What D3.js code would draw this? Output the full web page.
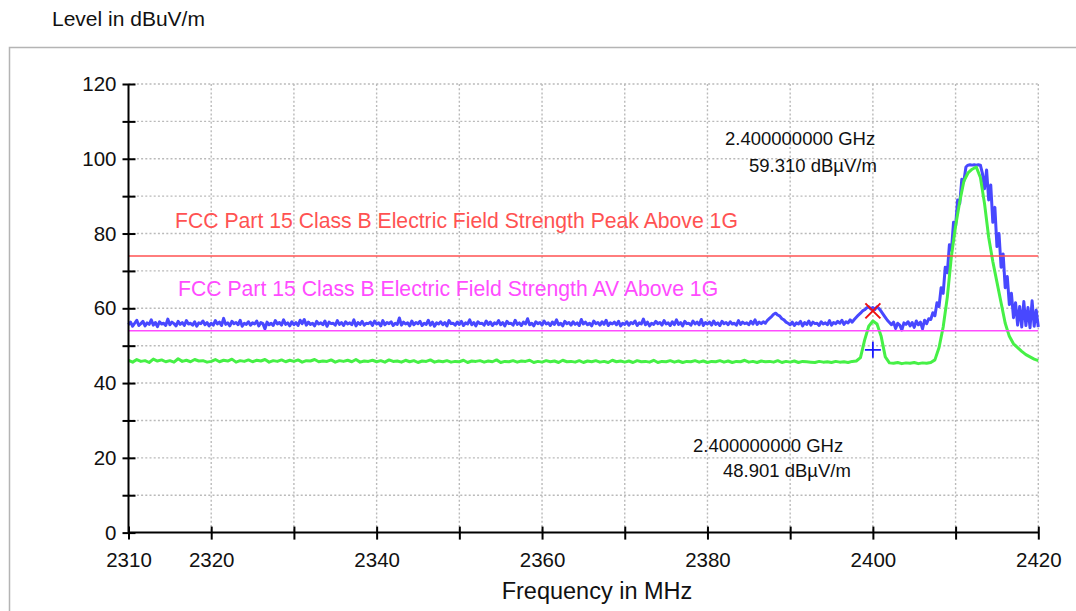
<!DOCTYPE html>
<html>
<head>
<meta charset="utf-8">
<script src="https://cdn.jsdelivr.net/npm/d3@7"></script>
<style>
  body { margin: 0; background: #fff; }
  svg { display: block; font-family: "Liberation Sans", Arial, Helvetica, sans-serif; }
</style>
</head>
<body>
<div id="chart"></div>
<script>
// sweep starts at 2310 MHz; peak trace read every 0.25 MHz, average every 0.5 MHz
const freqStart = 2310;
const peakStep = 0.25;
const avgStep = 0.5;

// blue trace (peak detector), dBuV/m -- one row per 10 MHz
const peakLevels = [
  55.6, 56.3, 55.2, 56.0, 56.8, 55.4, 55.9, 56.5, 55.3, 56.1, 55.7, 56.9, 55.5, 56.2, 55.1, 56.4, 55.8, 56.0, 55.4, 57.1, 55.6, 56.3, 55.9, 55.3, 56.5, 55.7, 56.2, 55.4, 56.7, 55.8, 56.0, 55.5, 56.4, 55.2, 56.1, 55.9, 56.6, 55.6, 56.2, 55.3,
  56.0, 55.5, 56.7, 55.8, 56.3, 55.4, 57.3, 55.7, 56.1, 55.3, 56.5, 55.9, 56.2, 55.6, 56.8, 55.2, 56.0, 55.7, 56.4, 55.5, 56.1, 55.8, 56.6, 55.3, 56.2, 55.9, 54.5, 56.3, 55.6, 56.0, 55.4, 56.7, 55.8, 56.2, 55.5, 56.9, 55.7, 56.1, 55.3, 56.4,
  55.6, 56.2, 55.4, 56.8, 55.9, 57.0, 55.5, 56.3, 55.7, 56.0, 55.3, 56.5, 55.8, 56.1, 55.6, 56.6, 55.2, 56.3, 55.9, 56.0, 55.5, 56.7, 55.7, 56.2, 55.4, 56.4, 55.8, 56.1, 55.6, 56.9, 55.3, 56.2, 55.7, 56.5, 55.5, 56.0, 55.9, 56.3, 55.4, 56.6,
  55.8, 56.1, 55.3, 56.7, 55.6, 56.2, 55.9, 56.4, 55.4, 56.0, 55.7, 57.4, 55.5, 56.3, 55.8, 56.1, 55.3, 56.6, 55.6, 56.2, 55.9, 56.5, 55.4, 56.0, 55.7, 56.8, 55.5, 56.3, 55.2, 56.1, 55.8, 56.4, 55.6, 56.2, 55.3, 56.7, 55.9, 56.0, 55.5, 56.3,
  55.7, 56.5, 55.4, 56.1, 55.8, 56.9, 55.6, 56.2, 55.3, 56.4, 55.9, 56.0, 55.5, 56.6, 55.7, 56.3, 55.4, 56.1, 55.8, 56.7, 55.6, 56.2, 55.3, 56.5, 55.9, 56.0, 55.5, 56.8, 55.7, 56.1, 55.4, 56.3, 55.8, 57.2, 55.6, 56.0, 55.3, 56.4, 55.9, 56.2,
  55.5, 56.6, 55.8, 56.1, 55.4, 56.3, 55.7, 56.9, 55.6, 56.0, 55.3, 56.5, 55.9, 56.2, 55.5, 56.4, 55.7, 56.1, 55.4, 57.0, 55.8, 56.3, 55.6, 56.0, 55.3, 56.6, 55.9, 56.2, 55.5, 56.4, 55.7, 56.8, 55.4, 56.1, 55.8, 56.3, 55.6, 56.5, 55.3, 56.0,
  55.7, 56.4, 55.5, 56.2, 55.9, 56.6, 55.4, 56.1, 55.8, 57.1, 55.6, 56.3, 55.3, 56.0, 55.7, 56.5, 55.9, 56.2, 55.5, 56.7, 55.8, 56.1, 55.4, 56.4, 55.6, 56.9, 55.7, 56.2, 55.3, 56.5, 55.9, 56.0, 55.5, 56.6, 55.8, 56.3, 55.6, 57.0, 55.4, 56.2,
  55.8, 56.3, 55.5, 56.6, 55.7, 56.1, 55.4, 56.5, 55.9, 56.2, 55.6, 56.4, 55.8, 56.0, 55.5, 56.7, 55.7, 56.3, 55.9, 56.1, 55.6, 56.5, 55.8, 56.9, 55.7, 56.3, 55.9, 56.4, 56.0, 56.8, 57.3, 57.8, 58.4, 58.7, 58.2, 57.9, 57.2, 56.9, 56.3, 56.0,
  55.6, 56.3, 55.4, 56.1, 55.8, 56.5, 55.3, 56.2, 55.7, 56.6, 55.5, 56.3, 55.9, 56.0, 55.4, 56.4, 55.8, 56.1, 55.6, 56.7, 55.5, 56.2, 55.9, 56.5, 56.0, 56.8, 55.7, 56.4, 56.1, 56.9, 56.3, 57.0, 57.6, 58.2, 58.7, 59.3, 59.6, 60.1, 60.4, 59.8,
  60.2, 59.7, 60.4, 59.9, 59.2, 58.4, 57.6, 56.8, 56.2, 55.6, 56.3, 54.6, 56.0, 55.5, 54.2, 56.1, 55.7, 56.4, 55.3, 56.2, 54.9, 56.6, 55.6, 56.3, 54.5, 56.8, 55.9, 57.2, 57.0, 58.8, 58.0, 61.5, 60.5, 65.5, 64.0, 71.0, 69.5, 77.0, 75.5, 83.0,
  82.0, 89.0, 88.0, 94.5, 94.0, 97.8, 98.3, 98.4, 98.3, 98.4, 98.3, 98.4, 98.3, 96.0, 92.0, 97.0, 89.0, 93.0, 83.0, 87.0, 76.5, 80.0, 71.0, 74.5, 65.5, 68.5, 61.0, 64.0, 57.5, 61.5, 55.5, 60.5, 55.0, 61.8, 55.4, 60.2, 54.8, 62.0, 55.2, 59.5,
  55.0
];

// green trace (average detector), dBuV/m -- one row per 10 MHz
const avgLevels = [
  46.1, 45.6, 46.3, 45.8, 46.0, 45.5, 46.4, 45.9, 46.2, 45.7, 46.0, 45.6, 46.5, 45.8, 46.1, 45.7, 46.3, 45.9, 46.0, 45.6,
  45.8, 46.3, 45.7, 46.1, 45.9, 46.4, 45.6, 46.0, 45.8, 46.2, 45.7, 46.1, 45.9, 46.3, 45.6, 46.0, 45.8, 46.2, 45.7, 46.1,
  45.8, 46.2, 45.6, 46.0, 45.9, 46.3, 45.7, 45.9, 45.8, 46.2, 45.6, 46.0, 45.8, 46.1, 45.7, 46.3, 45.6, 45.9, 45.8, 46.1,
  45.7, 46.0, 45.6, 46.2, 45.8, 45.9, 45.6, 46.1, 45.7, 46.0, 45.5, 45.9, 45.8, 46.2, 45.6, 45.9, 45.7, 46.0, 45.6, 45.8,
  45.7, 46.1, 45.5, 45.9, 45.8, 46.0, 45.6, 45.9, 45.7, 46.2, 45.5, 45.8, 45.7, 46.0, 45.6, 45.9, 45.8, 46.1, 45.5, 45.8,
  45.6, 46.0, 45.7, 45.9, 45.5, 46.1, 45.7, 45.8, 45.6, 46.0, 45.5, 45.9, 45.7, 46.0, 45.6, 45.8, 45.5, 46.1, 45.7, 45.9,
  45.6, 45.9, 45.5, 46.0, 45.7, 45.8, 45.6, 46.1, 45.5, 45.8, 45.7, 46.0, 45.6, 45.9, 45.5, 45.8, 45.7, 46.0, 45.6, 45.9,
  45.5, 45.8, 45.7, 46.0, 45.6, 45.9, 45.5, 45.8, 45.7, 46.1, 45.6, 45.8, 45.5, 45.9, 45.7, 45.8, 45.6, 46.0, 45.5, 45.8,
  45.6, 45.9, 45.5, 45.8, 45.7, 45.6, 45.5, 45.8, 45.6, 45.7, 45.5, 45.8, 45.6, 45.7, 45.5, 45.8, 45.9, 46.8, 51.5, 55.2,
  56.6, 55.8, 52.5, 47.0, 45.4, 45.3, 45.5, 45.2, 45.4, 45.3, 45.5, 45.2, 45.4, 45.3, 45.5, 46.2, 49.5, 55.0, 63.0, 74.0,
  82.0, 88.5, 94.0, 96.2, 97.2, 97.8, 95.0, 88.0, 79.0, 72.5, 67.0, 61.5, 56.0, 52.5, 50.5, 49.5, 48.5, 47.6, 47.0, 46.4,
  46.0
];

const limitNames = [
  "FCC Part 15 Class B Electric Field Strength Peak Above 1G",
  "FCC Part 15 Class B Electric Field Strength AV Above 1G"
];
const limitLevels = [74, 54];

const markerFreqs = [2400, 2400];          // MHz
const markerLevels = [59.31, 48.901];       // dBuV/m
const markerTexts = [
  ["2.400000000 GHz", "59.310 dBµV/m"],
  ["2.400000000 GHz", "48.901 dBµV/m"]
];

const xTickValues = [2310, 2320, 2330, 2340, 2350, 2360, 2370, 2380, 2390, 2400, 2410, 2420];
const xTickLabels = [2310, 2320, 2340, 2360, 2380, 2400, 2420];
const yTickValues = [0, 10, 20, 30, 40, 50, 60, 70, 80, 90, 100, 110, 120];
const yTickLabels = [0, 20, 40, 60, 80, 100, 120];

const width = 1076, height = 611;
const svg = d3.select('#chart').append('svg')
  .attr('width', width)
  .attr('height', height);

// panel frame
svg.append('rect')
  .attr('x', 9.5).attr('y', 47.5)
  .attr('width', 1100).attr('height', 700)
  .attr('fill', 'none')
  .attr('stroke', '#b4b4b4')
  .attr('stroke-width', 1.5);

const x = d3.scaleLinear().domain([2310, 2420]).range([128.5, 1038.3]);
const y = d3.scaleLinear().domain([0, 120]).range([532.6, 84]);

// dotted grid
const grid = svg.append('g')
  .attr('stroke', '#bababa')
  .attr('stroke-width', 1.4)
  .attr('stroke-dasharray', '2,2.2');
grid.selectAll('.gx')
  .data(xTickValues.filter(v => v > 2310))
  .enter().append('line')
  .attr('x1', d => x(d)).attr('x2', d => x(d))
  .attr('y1', y(120)).attr('y2', y(0));
grid.selectAll('.gy')
  .data(yTickValues.filter(v => v > 0))
  .enter().append('line')
  .attr('x1', x(2310)).attr('x2', x(2420))
  .attr('y1', d => y(d)).attr('y2', d => y(d));

// traces
const traceLine = step => d3.line()
  .x((d, i) => x(freqStart + i * step))
  .y(d => y(d));

svg.append('path')
  .attr('d', traceLine(peakStep)(peakLevels))
  .attr('fill', 'none')
  .attr('stroke', '#4848ff')
  .attr('stroke-width', 3)
  .attr('stroke-linejoin', 'round');

svg.append('path')
  .attr('d', traceLine(avgStep)(avgLevels))
  .attr('fill', 'none')
  .attr('stroke', '#46f046')
  .attr('stroke-width', 3)
  .attr('stroke-linejoin', 'round');

// limit lines + names
const limitColors = ['#ff5252', '#ff4cff'];
const limitTextPos = [[175, 228], [178, 296]];
limitLevels.forEach((v, i) => {
  svg.append('line')
    .attr('x1', x(2310)).attr('x2', x(2420))
    .attr('y1', y(v)).attr('y2', y(v))
    .attr('stroke', limitColors[i])
    .attr('stroke-width', 1.6);
  svg.append('text')
    .attr('x', limitTextPos[i][0]).attr('y', limitTextPos[i][1])
    .attr('fill', limitColors[i])
    .style('font-size', '21.2px')
    .text(limitNames[i]);
});

// markers: red x on peak, blue + on average
const mx = x(markerFreqs[0]), my = y(markerLevels[0]);
svg.append('path')
  .attr('d', `M${mx - 7.5},${my - 7.5}L${mx + 7.5},${my + 7.5}M${mx - 7.5},${my + 7.5}L${mx + 7.5},${my - 7.5}`)
  .attr('stroke', '#ee1111')
  .attr('stroke-width', 2);
const px = x(markerFreqs[1]), py = y(markerLevels[1]);
svg.append('path')
  .attr('d', `M${px - 8},${py}H${px + 8}M${px},${py - 8}V${py + 8}`)
  .attr('stroke', '#1a1aff')
  .attr('stroke-width', 1.8);

// marker readouts
const readoutPos = [[[725, 145], [749, 172]], [[693, 452], [723, 477]]];
markerTexts.forEach((lines, i) => {
  lines.forEach((t, j) => {
    svg.append('text')
      .attr('x', readoutPos[i][j][0]).attr('y', readoutPos[i][j][1])
      .style('font-size', '18.5px')
      .attr('fill', '#111')
      .text(t);
  });
});

// axes
const yAxis = d3.axisLeft(y)
  .tickValues(yTickValues)
  .tickSize(6)
  .tickPadding(6)
  .tickFormat(d => yTickLabels.includes(d) ? d : '');
const gy = svg.append('g')
  .attr('transform', `translate(${x(2310)},0)`)
  .call(yAxis);
gy.selectAll('.tick line').attr('x1', 7);

const xAxis = d3.axisBottom(x)
  .tickValues(xTickValues)
  .tickSize(7)
  .tickPadding(13)
  .tickFormat(d => xTickLabels.includes(d) ? d : '');
const gx = svg.append('g')
  .attr('transform', `translate(0,${y(0)})`)
  .call(xAxis);
gx.selectAll('.tick line').attr('y1', -6);

[gx, gy].forEach(g => {
  g.select('.domain').attr('stroke', '#000').attr('stroke-width', 2);
  g.selectAll('.tick line').attr('stroke', '#000').attr('stroke-width', 2);
  g.selectAll('.tick text')
    .attr('fill', '#111')
    .style('font-size', '20.5px')
    .style('font-family', '"Liberation Sans", Arial, sans-serif');
});
gy.select('.domain').attr('d', `M0,${y(120)}V${y(0)}`);
gx.select('.domain').attr('d', `M${x(2310)},0H${x(2420)}`);

// axis titles
svg.append('text')
  .attr('x', 52).attr('y', 26)
  .style('font-size', '21px')
  .attr('fill', '#111')
  .text('Level in dBuV/m');
svg.append('text')
  .attr('x', 597).attr('y', 599)
  .attr('text-anchor', 'middle')
  .style('font-size', '23.5px')
  .attr('fill', '#111')
  .text('Frequency in MHz');
</script>
</body>
</html>
